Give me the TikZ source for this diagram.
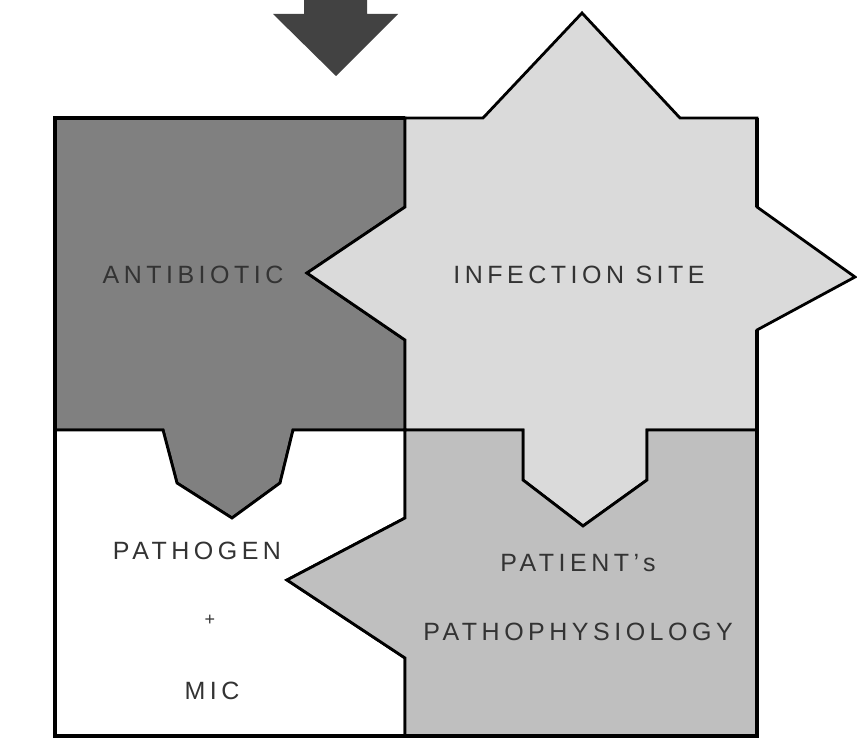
\documentclass[tikz,border=0pt]{standalone}
\usepackage{fontspec}
\setmainfont{Liberation Sans}
\usepackage{tikz}

\definecolor{arrowgray}{gray}{0.26}
\definecolor{abgray}{gray}{0.50}
\definecolor{sitegray}{gray}{0.855}
\definecolor{patgray}{gray}{0.75}

\begin{document}
\begin{tikzpicture}
[x=1pt,y=-1pt,line join=miter,
 piece/.style={draw=black,line width=2.8pt},
 lbl/.style={text=black!80,inner sep=0pt,font=\fontsize{25}{27}\selectfont\addfontfeature{LetterSpace=18}},]

\useasboundingbox (0,0) rectangle (857,738);

% corners of the square
\coordinate (TL) at (55,118);
\coordinate (TR) at (757,118);
\coordinate (BL) at (55,736);
\coordinate (BR) at (757,736);
% notches on the middle lines
\coordinate (v1) at (405,207);
\coordinate (v2) at (307,273);
\coordinate (v3) at (405,340);
\coordinate (v4) at (405,518);
\coordinate (v5) at (287,580);
\coordinate (v6) at (405,658);
\coordinate (M) at (405,430);

% arrow on top
\fill[arrowgray] (304,0) -- (367,0) -- (367,14) -- (398,14) -- (336,76) -- (273,14) -- (304,14) -- cycle;

% antibiotic
\filldraw[piece,fill=abgray] (TL) -- (405,118) -- (v1) -- (v2) -- (v3) -- (M)
  -- (293,430) -- (280,483) -- (232,518) -- (177,483) -- (163,430) -- (55,430) -- cycle;
% infection site
\filldraw[piece,fill=sitegray] (405,118) -- (483,118) -- (582,13) -- (680,118) -- (TR)
  -- (757,207) -- (855,277) -- (757,330) -- (757,430) -- (647,430) -- (647,480)
  -- (583,526) -- (523,480) -- (523,430) -- (M) -- (v3) -- (v2) -- (v1) -- cycle;
% pathogen
\filldraw[piece,fill=white] (55,430) -- (163,430) -- (177,483) -- (232,518) -- (280,483)
  -- (293,430) -- (M) -- (v4) -- (v5) -- (v6) -- (405,736) -- (BL) -- cycle;
% patient
\filldraw[piece,fill=patgray] (M) -- (523,430) -- (523,480) -- (583,526) -- (647,480)
  -- (647,430) -- (757,430) -- (BR) -- (405,736) -- (v6) -- (v5) -- (v4) -- cycle;

% outer frame
\draw[line width=3.2pt] (405,118) -- (TL) -- (BL) -- (BR) -- (757,330);
\draw[line width=3.2pt] (TR) -- (757,207);

\node[lbl] (antibiotic) at (193,275) {ANTIBIOTIC};
\node[lbl] (site) at (579,275) {INFECTION SITE};
\node[lbl] (pathogen) at (197,551) {PATHOGEN};
\node[lbl,font=\fontsize{18}{20}\selectfont] (plus) at (210,620) {+};
\node[lbl] (mic) at (212,691) {MIC};
\node[lbl] (patient) at (578,563) {PATIENT's};
\node[lbl] (patho) at (578,632) {PATHOPHYSIOLOGY};

\end{tikzpicture}
\end{document}
